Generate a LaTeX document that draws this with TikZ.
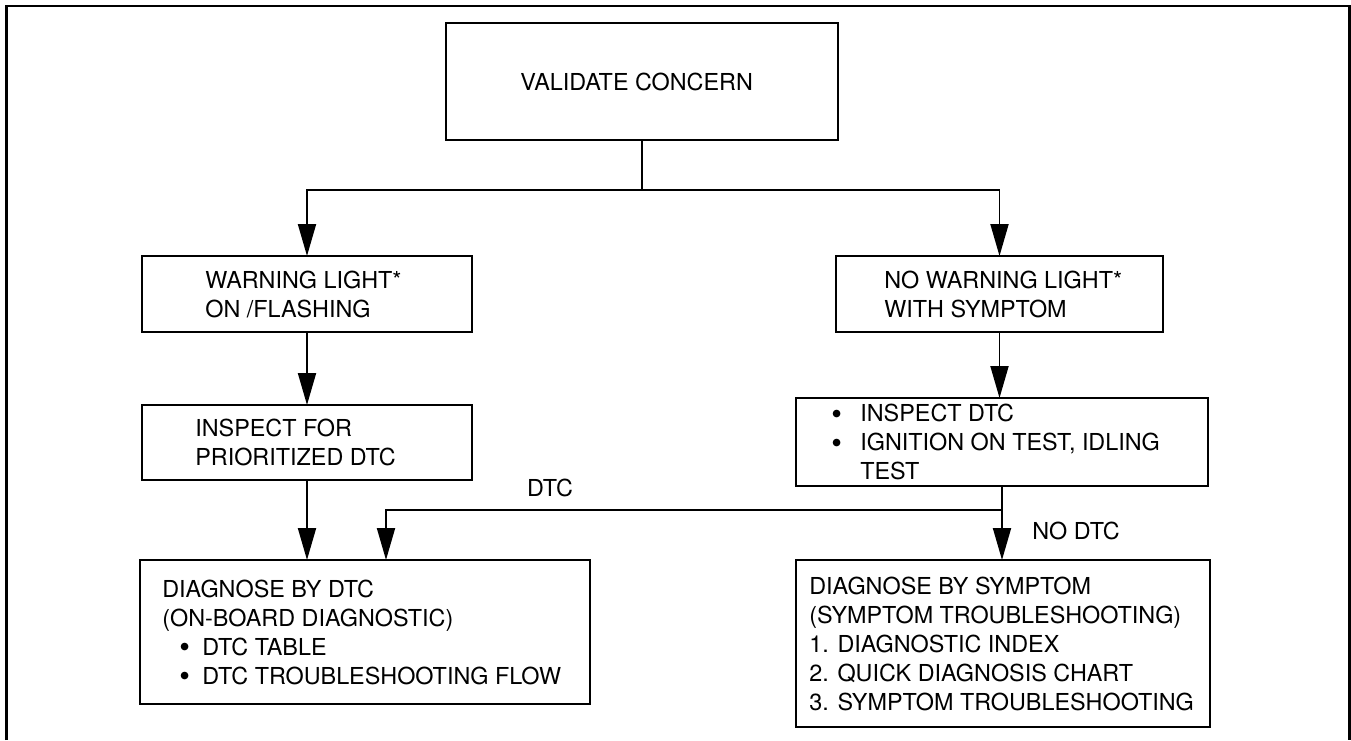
\documentclass[tikz,border=0pt]{standalone}
\usepackage{fontspec}
\setmainfont{TeX Gyre Heros}
\usetikzlibrary{positioning,arrows.meta}
\tikzset{>={Triangle[width=3.6mm,length=6.4mm]}}
\newcommand\blt[1]{\makebox[#1][l]{\smash{\raisebox{-1.6pt}{\scalebox{1.3}{\textbullet}}}}}

\begin{document}
\begin{tikzpicture}[
box/.style = {draw, line width=1.1pt, inner sep=0pt, outer sep=0pt},
txt/.style = {align=left, inner sep=0pt,
              font={\fontsize{13.3}{16.5}\selectfont}},
line/.style = {line width=1.1pt},
node distance = 0pt,
]
\useasboundingbox (0,0) rectangle (27.02,-14.8);
\draw[line width=1.7pt] (0.13,-14.8) -- (0.13,-0.12) -- (26.98,-0.12) -- (26.98,-14.8);
        % boxes
        \node (conc)    [box, minimum width=7.84cm, minimum height=2.34cm] at (12.84,-1.63) {};
        \node (warn)    [box, minimum width=6.6cm, minimum height=1.52cm] at (6.14,-5.88) {};
        \node (insp)    [box, minimum width=6.6cm, minimum height=1.5cm] at (6.14,-8.85) {};
        \node (nowarn)  [box, minimum width=6.54cm, minimum height=1.52cm] at (19.99,-5.88) {};
        \node (inspdtc) [box, minimum width=8.24cm, minimum height=1.76cm] at (20.04,-8.84) {};
        \node (dtc)     [box, minimum width=9.0cm, minimum height=2.88cm] at (7.3,-12.64) {};
        \node (sym)     [box, minimum width=8.28cm, minimum height=3.34cm] at (20.06,-12.87) {};
        % texts
        \node (text1) [txt, right=1.48cm of conc.west] {VALIDATE CONCERN};
        \node (text2) [txt, right=1.26cm of warn.west] {WARNING LIGHT*\\ON /FLASHING};
        \node (text3) [txt, right=1.06cm of insp.west] {INSPECT FOR\\PRIORITIZED DTC};
        \node (text4) [txt, right=0.96cm of nowarn.west] {NO WARNING LIGHT*\\WITH SYMPTOM};
        \node (text5) [txt, right=0.7cm of inspdtc.west]
                      {\blt{0.58cm}INSPECT DTC\\
                       \blt{0.58cm}IGNITION ON TEST, IDLING\\
                       \hspace*{0.58cm}TEST};
        \node (text6) [txt, right=0.44cm of dtc.west]
                      {DIAGNOSE BY DTC\\
                       (ON-BOARD DIAGNOSTIC)\\
                       \hspace*{0.34cm}\blt{0.46cm}DTC TABLE\\
                       \hspace*{0.34cm}\blt{0.46cm}DTC TROUBLESHOOTING FLOW};
        \node (text7) [txt, right=0.26cm of sym.west]
                      {DIAGNOSE BY SYMPTOM\\
                       (SYMPTOM TROUBLESHOOTING)\\
                       1. DIAGNOSTIC INDEX\\
                       2. QUICK DIAGNOSIS CHART\\
                       3. SYMPTOM TROUBLESHOOTING};
        % connectors
        \coordinate (fork) at ([yshift=-1cm]conc.south);
        \draw[line] (conc) -- (fork);
        \draw[line,->] (fork) -| (warn);
        \draw[line,->] (fork) -| (nowarn);
        \draw[line,->] (warn) -- (insp);
        \draw[line,->] (insp) -- (insp |- dtc.north);
        \draw[line,->] (nowarn) -- (nowarn |- inspdtc.north);
        \draw[line,->] (inspdtc) -- (inspdtc |- sym.north);
        \coordinate (split) at (inspdtc.south |- 0,-10.2);
        \coordinate (dtcin) at ([xshift=0.42cm]dtc.north);
        \draw[line,->] (split) -| (dtcin);
        \node (dtclbl) [txt] at (11.0,-9.76) {DTC};
        \node (nodtc)  [txt, anchor=west] at (20.64,-10.62) {NO DTC};
\end{tikzpicture}
\end{document}
